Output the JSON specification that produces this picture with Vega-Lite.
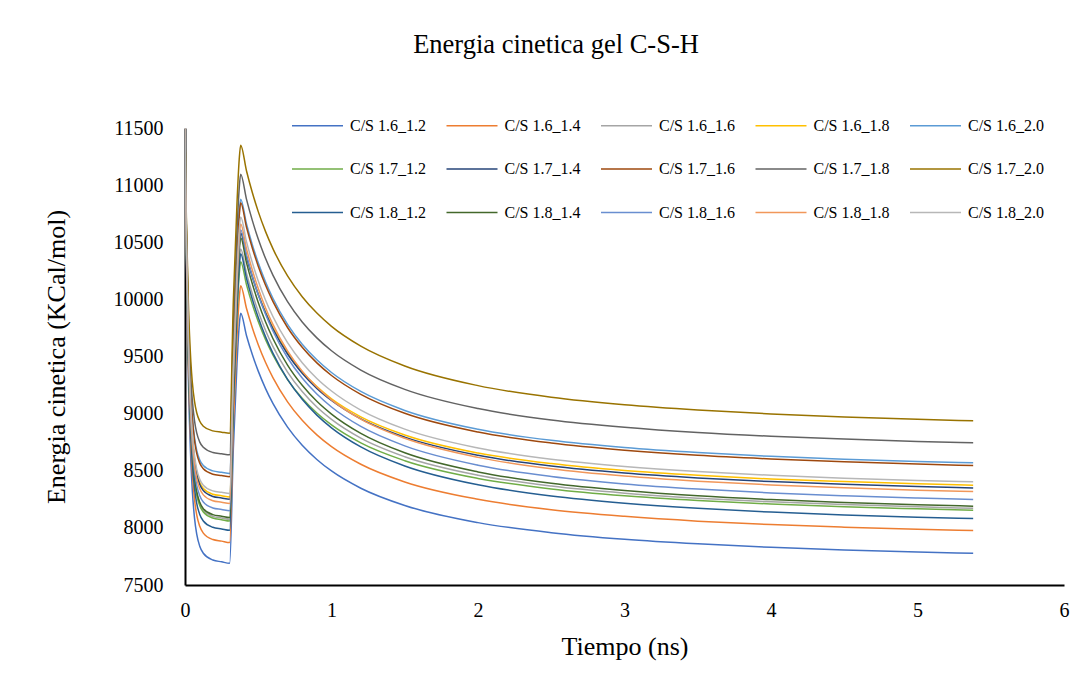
{
"$schema":"https://vega.github.io/schema/vega-lite/v6.json",
"width":879,"height":457,
"autosize":{"type":"none"},
"padding":{"left":185,"top":128,"right":27,"bottom":96},
"background":"white",
"config":{"view":{"stroke":null},"font":"Liberation Serif"},
"title":{"text":"Energia cinetica gel C-S-H","font":"Liberation Serif","fontSize":26.5,"fontWeight":"normal","color":"#000","frame":"bounds","offset":41},
"data":{"values":[
{"s":"1.6_1.2","t":0,"e":11500},{"s":"1.6_1.2","t":0.005,"e":10845},{"s":"1.6_1.2","t":0.01,"e":10307},{"s":"1.6_1.2","t":0.023,"e":9317},{"s":"1.6_1.2","t":0.04,"e":8582},{"s":"1.6_1.2","t":0.05,"e":8326},{"s":"1.6_1.2","t":0.065,"e":8086},{"s":"1.6_1.2","t":0.08,"e":7945},{"s":"1.6_1.2","t":0.1,"e":7842},{"s":"1.6_1.2","t":0.125,"e":7778},{"s":"1.6_1.2","t":0.19,"e":7719},{"s":"1.6_1.2","t":0.25,"e":7703},{"s":"1.6_1.2","t":0.305,"e":7690},{"s":"1.6_1.2","t":0.33,"e":8696},{"s":"1.6_1.2","t":0.355,"e":9440},{"s":"1.6_1.2","t":0.37,"e":9769},{"s":"1.6_1.2","t":0.38,"e":9878},{"s":"1.6_1.2","t":0.42,"e":9682},{"s":"1.6_1.2","t":0.46,"e":9515},{"s":"1.6_1.2","t":0.5,"e":9372},{"s":"1.6_1.2","t":0.55,"e":9219},{"s":"1.6_1.2","t":0.6,"e":9089},{"s":"1.6_1.2","t":0.7,"e":8882},{"s":"1.6_1.2","t":0.8,"e":8723},{"s":"1.6_1.2","t":0.9,"e":8599},{"s":"1.6_1.2","t":1,"e":8498},{"s":"1.6_1.2","t":1.2,"e":8347},{"s":"1.6_1.2","t":1.5,"e":8196},{"s":"1.6_1.2","t":2,"e":8046},{"s":"1.6_1.2","t":2.5,"e":7958},{"s":"1.6_1.2","t":3,"e":7900},{"s":"1.6_1.2","t":3.5,"e":7860},{"s":"1.6_1.2","t":4,"e":7830},{"s":"1.6_1.2","t":4.5,"e":7807},{"s":"1.6_1.2","t":5,"e":7789},{"s":"1.6_1.2","t":5.38,"e":7778},
{"s":"1.6_1.4","t":0,"e":11500},{"s":"1.6_1.4","t":0.005,"e":10876},{"s":"1.6_1.4","t":0.01,"e":10364},{"s":"1.6_1.4","t":0.023,"e":9421},{"s":"1.6_1.4","t":0.04,"e":8720},{"s":"1.6_1.4","t":0.05,"e":8477},{"s":"1.6_1.4","t":0.065,"e":8248},{"s":"1.6_1.4","t":0.08,"e":8114},{"s":"1.6_1.4","t":0.1,"e":8016},{"s":"1.6_1.4","t":0.125,"e":7954},{"s":"1.6_1.4","t":0.19,"e":7898},{"s":"1.6_1.4","t":0.25,"e":7884},{"s":"1.6_1.4","t":0.305,"e":7871},{"s":"1.6_1.4","t":0.33,"e":8906},{"s":"1.6_1.4","t":0.355,"e":9670},{"s":"1.6_1.4","t":0.37,"e":10008},{"s":"1.6_1.4","t":0.38,"e":10120},{"s":"1.6_1.4","t":0.42,"e":9920},{"s":"1.6_1.4","t":0.46,"e":9750},{"s":"1.6_1.4","t":0.5,"e":9603},{"s":"1.6_1.4","t":0.55,"e":9447},{"s":"1.6_1.4","t":0.6,"e":9315},{"s":"1.6_1.4","t":0.7,"e":9103},{"s":"1.6_1.4","t":0.8,"e":8941},{"s":"1.6_1.4","t":0.9,"e":8814},{"s":"1.6_1.4","t":1,"e":8711},{"s":"1.6_1.4","t":1.2,"e":8557},{"s":"1.6_1.4","t":1.5,"e":8402},{"s":"1.6_1.4","t":2,"e":8250},{"s":"1.6_1.4","t":2.5,"e":8159},{"s":"1.6_1.4","t":3,"e":8101},{"s":"1.6_1.4","t":3.5,"e":8059},{"s":"1.6_1.4","t":4,"e":8029},{"s":"1.6_1.4","t":4.5,"e":8006},{"s":"1.6_1.4","t":5,"e":7987},{"s":"1.6_1.4","t":5.38,"e":7976},
{"s":"1.6_1.6","t":0,"e":11500},{"s":"1.6_1.6","t":0.005,"e":10911},{"s":"1.6_1.6","t":0.01,"e":10428},{"s":"1.6_1.6","t":0.023,"e":9537},{"s":"1.6_1.6","t":0.04,"e":8876},{"s":"1.6_1.6","t":0.05,"e":8647},{"s":"1.6_1.6","t":0.065,"e":8431},{"s":"1.6_1.6","t":0.08,"e":8304},{"s":"1.6_1.6","t":0.1,"e":8212},{"s":"1.6_1.6","t":0.125,"e":8154},{"s":"1.6_1.6","t":0.19,"e":8101},{"s":"1.6_1.6","t":0.25,"e":8087},{"s":"1.6_1.6","t":0.305,"e":8075},{"s":"1.6_1.6","t":0.33,"e":9163},{"s":"1.6_1.6","t":0.355,"e":9967},{"s":"1.6_1.6","t":0.37,"e":10322},{"s":"1.6_1.6","t":0.38,"e":10440},{"s":"1.6_1.6","t":0.42,"e":10228},{"s":"1.6_1.6","t":0.46,"e":10048},{"s":"1.6_1.6","t":0.5,"e":9893},{"s":"1.6_1.6","t":0.55,"e":9728},{"s":"1.6_1.6","t":0.6,"e":9588},{"s":"1.6_1.6","t":0.7,"e":9364},{"s":"1.6_1.6","t":0.8,"e":9193},{"s":"1.6_1.6","t":0.9,"e":9058},{"s":"1.6_1.6","t":1,"e":8950},{"s":"1.6_1.6","t":1.2,"e":8786},{"s":"1.6_1.6","t":1.5,"e":8623},{"s":"1.6_1.6","t":2,"e":8461},{"s":"1.6_1.6","t":2.5,"e":8366},{"s":"1.6_1.6","t":3,"e":8304},{"s":"1.6_1.6","t":3.5,"e":8260},{"s":"1.6_1.6","t":4,"e":8228},{"s":"1.6_1.6","t":4.5,"e":8204},{"s":"1.6_1.6","t":5,"e":8184},{"s":"1.6_1.6","t":5.38,"e":8172},
{"s":"1.6_1.8","t":0,"e":11500},{"s":"1.6_1.8","t":0.005,"e":10945},{"s":"1.6_1.8","t":0.01,"e":10489},{"s":"1.6_1.8","t":0.023,"e":9650},{"s":"1.6_1.8","t":0.04,"e":9027},{"s":"1.6_1.8","t":0.05,"e":8810},{"s":"1.6_1.8","t":0.065,"e":8607},{"s":"1.6_1.8","t":0.08,"e":8487},{"s":"1.6_1.8","t":0.1,"e":8400},{"s":"1.6_1.8","t":0.125,"e":8345},{"s":"1.6_1.8","t":0.19,"e":8295},{"s":"1.6_1.8","t":0.25,"e":8282},{"s":"1.6_1.8","t":0.305,"e":8271},{"s":"1.6_1.8","t":0.33,"e":9333},{"s":"1.6_1.8","t":0.355,"e":10118},{"s":"1.6_1.8","t":0.37,"e":10465},{"s":"1.6_1.8","t":0.38,"e":10580},{"s":"1.6_1.8","t":0.42,"e":10374},{"s":"1.6_1.8","t":0.46,"e":10199},{"s":"1.6_1.8","t":0.5,"e":10048},{"s":"1.6_1.8","t":0.55,"e":9888},{"s":"1.6_1.8","t":0.6,"e":9752},{"s":"1.6_1.8","t":0.7,"e":9533},{"s":"1.6_1.8","t":0.8,"e":9367},{"s":"1.6_1.8","t":0.9,"e":9236},{"s":"1.6_1.8","t":1,"e":9130},{"s":"1.6_1.8","t":1.2,"e":8972},{"s":"1.6_1.8","t":1.5,"e":8813},{"s":"1.6_1.8","t":2,"e":8655},{"s":"1.6_1.8","t":2.5,"e":8563},{"s":"1.6_1.8","t":3,"e":8502},{"s":"1.6_1.8","t":3.5,"e":8460},{"s":"1.6_1.8","t":4,"e":8428},{"s":"1.6_1.8","t":4.5,"e":8405},{"s":"1.6_1.8","t":5,"e":8386},{"s":"1.6_1.8","t":5.38,"e":8374},
{"s":"1.6_2.0","t":0,"e":11500},{"s":"1.6_2.0","t":0.005,"e":10980},{"s":"1.6_2.0","t":0.01,"e":10553},{"s":"1.6_2.0","t":0.023,"e":9767},{"s":"1.6_2.0","t":0.04,"e":9184},{"s":"1.6_2.0","t":0.05,"e":8981},{"s":"1.6_2.0","t":0.065,"e":8790},{"s":"1.6_2.0","t":0.08,"e":8679},{"s":"1.6_2.0","t":0.1,"e":8597},{"s":"1.6_2.0","t":0.125,"e":8546},{"s":"1.6_2.0","t":0.19,"e":8499},{"s":"1.6_2.0","t":0.25,"e":8487},{"s":"1.6_2.0","t":0.305,"e":8476},{"s":"1.6_2.0","t":0.33,"e":9580},{"s":"1.6_2.0","t":0.355,"e":10396},{"s":"1.6_2.0","t":0.37,"e":10756},{"s":"1.6_2.0","t":0.38,"e":10876},{"s":"1.6_2.0","t":0.42,"e":10660},{"s":"1.6_2.0","t":0.46,"e":10477},{"s":"1.6_2.0","t":0.5,"e":10320},{"s":"1.6_2.0","t":0.55,"e":10152},{"s":"1.6_2.0","t":0.6,"e":10010},{"s":"1.6_2.0","t":0.7,"e":9782},{"s":"1.6_2.0","t":0.8,"e":9608},{"s":"1.6_2.0","t":0.9,"e":9471},{"s":"1.6_2.0","t":1,"e":9360},{"s":"1.6_2.0","t":1.2,"e":9194},{"s":"1.6_2.0","t":1.5,"e":9028},{"s":"1.6_2.0","t":2,"e":8863},{"s":"1.6_2.0","t":2.5,"e":8766},{"s":"1.6_2.0","t":3,"e":8703},{"s":"1.6_2.0","t":3.5,"e":8659},{"s":"1.6_2.0","t":4,"e":8626},{"s":"1.6_2.0","t":4.5,"e":8601},{"s":"1.6_2.0","t":5,"e":8581},{"s":"1.6_2.0","t":5.38,"e":8569},
{"s":"1.7_1.2","t":0,"e":11500},{"s":"1.7_1.2","t":0.005,"e":10908},{"s":"1.7_1.2","t":0.01,"e":10423},{"s":"1.7_1.2","t":0.023,"e":9529},{"s":"1.7_1.2","t":0.04,"e":8865},{"s":"1.7_1.2","t":0.05,"e":8634},{"s":"1.7_1.2","t":0.065,"e":8418},{"s":"1.7_1.2","t":0.08,"e":8290},{"s":"1.7_1.2","t":0.1,"e":8198},{"s":"1.7_1.2","t":0.125,"e":8139},{"s":"1.7_1.2","t":0.19,"e":8086},{"s":"1.7_1.2","t":0.25,"e":8072},{"s":"1.7_1.2","t":0.305,"e":8060},{"s":"1.7_1.2","t":0.33,"e":9104},{"s":"1.7_1.2","t":0.355,"e":9876},{"s":"1.7_1.2","t":0.37,"e":10217},{"s":"1.7_1.2","t":0.38,"e":10330},{"s":"1.7_1.2","t":0.42,"e":10127},{"s":"1.7_1.2","t":0.46,"e":9954},{"s":"1.7_1.2","t":0.5,"e":9806},{"s":"1.7_1.2","t":0.55,"e":9647},{"s":"1.7_1.2","t":0.6,"e":9513},{"s":"1.7_1.2","t":0.7,"e":9298},{"s":"1.7_1.2","t":0.8,"e":9134},{"s":"1.7_1.2","t":0.9,"e":9005},{"s":"1.7_1.2","t":1,"e":8901},{"s":"1.7_1.2","t":1.2,"e":8744},{"s":"1.7_1.2","t":1.5,"e":8588},{"s":"1.7_1.2","t":2,"e":8433},{"s":"1.7_1.2","t":2.5,"e":8341},{"s":"1.7_1.2","t":3,"e":8281},{"s":"1.7_1.2","t":3.5,"e":8240},{"s":"1.7_1.2","t":4,"e":8209},{"s":"1.7_1.2","t":4.5,"e":8185},{"s":"1.7_1.2","t":5,"e":8167},{"s":"1.7_1.2","t":5.38,"e":8155},
{"s":"1.7_1.4","t":0,"e":11500},{"s":"1.7_1.4","t":0.005,"e":10941},{"s":"1.7_1.4","t":0.01,"e":10483},{"s":"1.7_1.4","t":0.023,"e":9638},{"s":"1.7_1.4","t":0.04,"e":9011},{"s":"1.7_1.4","t":0.05,"e":8794},{"s":"1.7_1.4","t":0.065,"e":8589},{"s":"1.7_1.4","t":0.08,"e":8469},{"s":"1.7_1.4","t":0.1,"e":8381},{"s":"1.7_1.4","t":0.125,"e":8326},{"s":"1.7_1.4","t":0.19,"e":8275},{"s":"1.7_1.4","t":0.25,"e":8262},{"s":"1.7_1.4","t":0.305,"e":8251},{"s":"1.7_1.4","t":0.33,"e":9322},{"s":"1.7_1.4","t":0.355,"e":10114},{"s":"1.7_1.4","t":0.37,"e":10464},{"s":"1.7_1.4","t":0.38,"e":10580},{"s":"1.7_1.4","t":0.42,"e":10371},{"s":"1.7_1.4","t":0.46,"e":10195},{"s":"1.7_1.4","t":0.5,"e":10042},{"s":"1.7_1.4","t":0.55,"e":9880},{"s":"1.7_1.4","t":0.6,"e":9743},{"s":"1.7_1.4","t":0.7,"e":9522},{"s":"1.7_1.4","t":0.8,"e":9354},{"s":"1.7_1.4","t":0.9,"e":9221},{"s":"1.7_1.4","t":1,"e":9115},{"s":"1.7_1.4","t":1.2,"e":8954},{"s":"1.7_1.4","t":1.5,"e":8794},{"s":"1.7_1.4","t":2,"e":8635},{"s":"1.7_1.4","t":2.5,"e":8541},{"s":"1.7_1.4","t":3,"e":8480},{"s":"1.7_1.4","t":3.5,"e":8437},{"s":"1.7_1.4","t":4,"e":8405},{"s":"1.7_1.4","t":4.5,"e":8381},{"s":"1.7_1.4","t":5,"e":8362},{"s":"1.7_1.4","t":5.38,"e":8350},
{"s":"1.7_1.6","t":0,"e":11500},{"s":"1.7_1.6","t":0.005,"e":10975},{"s":"1.7_1.6","t":0.01,"e":10544},{"s":"1.7_1.6","t":0.023,"e":9751},{"s":"1.7_1.6","t":0.04,"e":9161},{"s":"1.7_1.6","t":0.05,"e":8957},{"s":"1.7_1.6","t":0.065,"e":8765},{"s":"1.7_1.6","t":0.08,"e":8652},{"s":"1.7_1.6","t":0.1,"e":8569},{"s":"1.7_1.6","t":0.125,"e":8517},{"s":"1.7_1.6","t":0.19,"e":8470},{"s":"1.7_1.6","t":0.25,"e":8458},{"s":"1.7_1.6","t":0.305,"e":8447},{"s":"1.7_1.6","t":0.33,"e":9550},{"s":"1.7_1.6","t":0.355,"e":10365},{"s":"1.7_1.6","t":0.37,"e":10725},{"s":"1.7_1.6","t":0.38,"e":10845},{"s":"1.7_1.6","t":0.42,"e":10630},{"s":"1.7_1.6","t":0.46,"e":10448},{"s":"1.7_1.6","t":0.5,"e":10291},{"s":"1.7_1.6","t":0.55,"e":10123},{"s":"1.7_1.6","t":0.6,"e":9982},{"s":"1.7_1.6","t":0.7,"e":9754},{"s":"1.7_1.6","t":0.8,"e":9581},{"s":"1.7_1.6","t":0.9,"e":9444},{"s":"1.7_1.6","t":1,"e":9334},{"s":"1.7_1.6","t":1.2,"e":9169},{"s":"1.7_1.6","t":1.5,"e":9003},{"s":"1.7_1.6","t":2,"e":8839},{"s":"1.7_1.6","t":2.5,"e":8743},{"s":"1.7_1.6","t":3,"e":8680},{"s":"1.7_1.6","t":3.5,"e":8635},{"s":"1.7_1.6","t":4,"e":8603},{"s":"1.7_1.6","t":4.5,"e":8578},{"s":"1.7_1.6","t":5,"e":8558},{"s":"1.7_1.6","t":5.38,"e":8546},
{"s":"1.7_1.8","t":0,"e":11500},{"s":"1.7_1.8","t":0.005,"e":11008},{"s":"1.7_1.8","t":0.01,"e":10605},{"s":"1.7_1.8","t":0.023,"e":9861},{"s":"1.7_1.8","t":0.04,"e":9308},{"s":"1.7_1.8","t":0.05,"e":9117},{"s":"1.7_1.8","t":0.065,"e":8937},{"s":"1.7_1.8","t":0.08,"e":8831},{"s":"1.7_1.8","t":0.1,"e":8753},{"s":"1.7_1.8","t":0.125,"e":8705},{"s":"1.7_1.8","t":0.19,"e":8660},{"s":"1.7_1.8","t":0.25,"e":8649},{"s":"1.7_1.8","t":0.305,"e":8639},{"s":"1.7_1.8","t":0.33,"e":9769},{"s":"1.7_1.8","t":0.355,"e":10604},{"s":"1.7_1.8","t":0.37,"e":10972},{"s":"1.7_1.8","t":0.38,"e":11095},{"s":"1.7_1.8","t":0.42,"e":10875},{"s":"1.7_1.8","t":0.46,"e":10689},{"s":"1.7_1.8","t":0.5,"e":10528},{"s":"1.7_1.8","t":0.55,"e":10357},{"s":"1.7_1.8","t":0.6,"e":10212},{"s":"1.7_1.8","t":0.7,"e":9980},{"s":"1.7_1.8","t":0.8,"e":9802},{"s":"1.7_1.8","t":0.9,"e":9663},{"s":"1.7_1.8","t":1,"e":9550},{"s":"1.7_1.8","t":1.2,"e":9381},{"s":"1.7_1.8","t":1.5,"e":9212},{"s":"1.7_1.8","t":2,"e":9044},{"s":"1.7_1.8","t":2.5,"e":8945},{"s":"1.7_1.8","t":3,"e":8881},{"s":"1.7_1.8","t":3.5,"e":8835},{"s":"1.7_1.8","t":4,"e":8802},{"s":"1.7_1.8","t":4.5,"e":8777},{"s":"1.7_1.8","t":5,"e":8756},{"s":"1.7_1.8","t":5.38,"e":8744},
{"s":"1.7_2.0","t":0,"e":11500},{"s":"1.7_2.0","t":0.005,"e":11041},{"s":"1.7_2.0","t":0.01,"e":10664},{"s":"1.7_2.0","t":0.023,"e":9970},{"s":"1.7_2.0","t":0.04,"e":9454},{"s":"1.7_2.0","t":0.05,"e":9275},{"s":"1.7_2.0","t":0.065,"e":9107},{"s":"1.7_2.0","t":0.08,"e":9008},{"s":"1.7_2.0","t":0.1,"e":8936},{"s":"1.7_2.0","t":0.125,"e":8890},{"s":"1.7_2.0","t":0.19,"e":8849},{"s":"1.7_2.0","t":0.25,"e":8838},{"s":"1.7_2.0","t":0.305,"e":8829},{"s":"1.7_2.0","t":0.33,"e":9989},{"s":"1.7_2.0","t":0.355,"e":10846},{"s":"1.7_2.0","t":0.37,"e":11224},{"s":"1.7_2.0","t":0.38,"e":11350},{"s":"1.7_2.0","t":0.42,"e":11124},{"s":"1.7_2.0","t":0.46,"e":10933},{"s":"1.7_2.0","t":0.5,"e":10768},{"s":"1.7_2.0","t":0.55,"e":10593},{"s":"1.7_2.0","t":0.6,"e":10444},{"s":"1.7_2.0","t":0.7,"e":10205},{"s":"1.7_2.0","t":0.8,"e":10023},{"s":"1.7_2.0","t":0.9,"e":9880},{"s":"1.7_2.0","t":1,"e":9764},{"s":"1.7_2.0","t":1.2,"e":9591},{"s":"1.7_2.0","t":1.5,"e":9417},{"s":"1.7_2.0","t":2,"e":9245},{"s":"1.7_2.0","t":2.5,"e":9143},{"s":"1.7_2.0","t":3,"e":9077},{"s":"1.7_2.0","t":3.5,"e":9031},{"s":"1.7_2.0","t":4,"e":8997},{"s":"1.7_2.0","t":4.5,"e":8971},{"s":"1.7_2.0","t":5,"e":8950},{"s":"1.7_2.0","t":5.38,"e":8937},
{"s":"1.8_1.2","t":0,"e":11500},{"s":"1.8_1.2","t":0.005,"e":10894},{"s":"1.8_1.2","t":0.01,"e":10398},{"s":"1.8_1.2","t":0.023,"e":9482},{"s":"1.8_1.2","t":0.04,"e":8803},{"s":"1.8_1.2","t":0.05,"e":8567},{"s":"1.8_1.2","t":0.065,"e":8345},{"s":"1.8_1.2","t":0.08,"e":8215},{"s":"1.8_1.2","t":0.1,"e":8120},{"s":"1.8_1.2","t":0.125,"e":8060},{"s":"1.8_1.2","t":0.19,"e":8005},{"s":"1.8_1.2","t":0.25,"e":7991},{"s":"1.8_1.2","t":0.305,"e":7979},{"s":"1.8_1.2","t":0.33,"e":9093},{"s":"1.8_1.2","t":0.355,"e":9916},{"s":"1.8_1.2","t":0.37,"e":10279},{"s":"1.8_1.2","t":0.38,"e":10400},{"s":"1.8_1.2","t":0.42,"e":10183},{"s":"1.8_1.2","t":0.46,"e":9999},{"s":"1.8_1.2","t":0.5,"e":9841},{"s":"1.8_1.2","t":0.55,"e":9672},{"s":"1.8_1.2","t":0.6,"e":9529},{"s":"1.8_1.2","t":0.7,"e":9300},{"s":"1.8_1.2","t":0.8,"e":9125},{"s":"1.8_1.2","t":0.9,"e":8987},{"s":"1.8_1.2","t":1,"e":8876},{"s":"1.8_1.2","t":1.2,"e":8709},{"s":"1.8_1.2","t":1.5,"e":8542},{"s":"1.8_1.2","t":2,"e":8377},{"s":"1.8_1.2","t":2.5,"e":8279},{"s":"1.8_1.2","t":3,"e":8216},{"s":"1.8_1.2","t":3.5,"e":8171},{"s":"1.8_1.2","t":4,"e":8138},{"s":"1.8_1.2","t":4.5,"e":8113},{"s":"1.8_1.2","t":5,"e":8093},{"s":"1.8_1.2","t":5.38,"e":8081},
{"s":"1.8_1.4","t":0,"e":11500},{"s":"1.8_1.4","t":0.005,"e":10913},{"s":"1.8_1.4","t":0.01,"e":10433},{"s":"1.8_1.4","t":0.023,"e":9546},{"s":"1.8_1.4","t":0.04,"e":8888},{"s":"1.8_1.4","t":0.05,"e":8659},{"s":"1.8_1.4","t":0.065,"e":8445},{"s":"1.8_1.4","t":0.08,"e":8318},{"s":"1.8_1.4","t":0.1,"e":8226},{"s":"1.8_1.4","t":0.125,"e":8168},{"s":"1.8_1.4","t":0.19,"e":8116},{"s":"1.8_1.4","t":0.25,"e":8102},{"s":"1.8_1.4","t":0.305,"e":8090},{"s":"1.8_1.4","t":0.33,"e":9217},{"s":"1.8_1.4","t":0.355,"e":10050},{"s":"1.8_1.4","t":0.37,"e":10418},{"s":"1.8_1.4","t":0.38,"e":10540},{"s":"1.8_1.4","t":0.42,"e":10320},{"s":"1.8_1.4","t":0.46,"e":10134},{"s":"1.8_1.4","t":0.5,"e":9973},{"s":"1.8_1.4","t":0.55,"e":9802},{"s":"1.8_1.4","t":0.6,"e":9658},{"s":"1.8_1.4","t":0.7,"e":9425},{"s":"1.8_1.4","t":0.8,"e":9248},{"s":"1.8_1.4","t":0.9,"e":9108},{"s":"1.8_1.4","t":1,"e":8996},{"s":"1.8_1.4","t":1.2,"e":8827},{"s":"1.8_1.4","t":1.5,"e":8657},{"s":"1.8_1.4","t":2,"e":8490},{"s":"1.8_1.4","t":2.5,"e":8391},{"s":"1.8_1.4","t":3,"e":8327},{"s":"1.8_1.4","t":3.5,"e":8281},{"s":"1.8_1.4","t":4,"e":8248},{"s":"1.8_1.4","t":4.5,"e":8223},{"s":"1.8_1.4","t":5,"e":8202},{"s":"1.8_1.4","t":5.38,"e":8190},
{"s":"1.8_1.6","t":0,"e":11500},{"s":"1.8_1.6","t":0.005,"e":10924},{"s":"1.8_1.6","t":0.01,"e":10451},{"s":"1.8_1.6","t":0.023,"e":9580},{"s":"1.8_1.6","t":0.04,"e":8933},{"s":"1.8_1.6","t":0.05,"e":8709},{"s":"1.8_1.6","t":0.065,"e":8498},{"s":"1.8_1.6","t":0.08,"e":8374},{"s":"1.8_1.6","t":0.1,"e":8283},{"s":"1.8_1.6","t":0.125,"e":8226},{"s":"1.8_1.6","t":0.19,"e":8174},{"s":"1.8_1.6","t":0.25,"e":8161},{"s":"1.8_1.6","t":0.305,"e":8149},{"s":"1.8_1.6","t":0.33,"e":9281},{"s":"1.8_1.6","t":0.355,"e":10118},{"s":"1.8_1.6","t":0.37,"e":10487},{"s":"1.8_1.6","t":0.38,"e":10610},{"s":"1.8_1.6","t":0.42,"e":10389},{"s":"1.8_1.6","t":0.46,"e":10202},{"s":"1.8_1.6","t":0.5,"e":10041},{"s":"1.8_1.6","t":0.55,"e":9869},{"s":"1.8_1.6","t":0.6,"e":9723},{"s":"1.8_1.6","t":0.7,"e":9489},{"s":"1.8_1.6","t":0.8,"e":9311},{"s":"1.8_1.6","t":0.9,"e":9171},{"s":"1.8_1.6","t":1,"e":9058},{"s":"1.8_1.6","t":1.2,"e":8888},{"s":"1.8_1.6","t":1.5,"e":8718},{"s":"1.8_1.6","t":2,"e":8549},{"s":"1.8_1.6","t":2.5,"e":8450},{"s":"1.8_1.6","t":3,"e":8385},{"s":"1.8_1.6","t":3.5,"e":8340},{"s":"1.8_1.6","t":4,"e":8306},{"s":"1.8_1.6","t":4.5,"e":8281},{"s":"1.8_1.6","t":5,"e":8261},{"s":"1.8_1.6","t":5.38,"e":8248},
{"s":"1.8_1.8","t":0,"e":11500},{"s":"1.8_1.8","t":0.005,"e":10935},{"s":"1.8_1.8","t":0.01,"e":10471},{"s":"1.8_1.8","t":0.023,"e":9617},{"s":"1.8_1.8","t":0.04,"e":8982},{"s":"1.8_1.8","t":0.05,"e":8762},{"s":"1.8_1.8","t":0.065,"e":8555},{"s":"1.8_1.8","t":0.08,"e":8433},{"s":"1.8_1.8","t":0.1,"e":8344},{"s":"1.8_1.8","t":0.125,"e":8289},{"s":"1.8_1.8","t":0.19,"e":8238},{"s":"1.8_1.8","t":0.25,"e":8225},{"s":"1.8_1.8","t":0.305,"e":8213},{"s":"1.8_1.8","t":0.33,"e":9339},{"s":"1.8_1.8","t":0.355,"e":10171},{"s":"1.8_1.8","t":0.37,"e":10538},{"s":"1.8_1.8","t":0.38,"e":10660},{"s":"1.8_1.8","t":0.42,"e":10441},{"s":"1.8_1.8","t":0.46,"e":10255},{"s":"1.8_1.8","t":0.5,"e":10095},{"s":"1.8_1.8","t":0.55,"e":9925},{"s":"1.8_1.8","t":0.6,"e":9781},{"s":"1.8_1.8","t":0.7,"e":9549},{"s":"1.8_1.8","t":0.8,"e":9372},{"s":"1.8_1.8","t":0.9,"e":9233},{"s":"1.8_1.8","t":1,"e":9121},{"s":"1.8_1.8","t":1.2,"e":8952},{"s":"1.8_1.8","t":1.5,"e":8784},{"s":"1.8_1.8","t":2,"e":8617},{"s":"1.8_1.8","t":2.5,"e":8518},{"s":"1.8_1.8","t":3,"e":8454},{"s":"1.8_1.8","t":3.5,"e":8409},{"s":"1.8_1.8","t":4,"e":8376},{"s":"1.8_1.8","t":4.5,"e":8351},{"s":"1.8_1.8","t":5,"e":8330},{"s":"1.8_1.8","t":5.38,"e":8318},
{"s":"1.8_2.0","t":0,"e":11500},{"s":"1.8_2.0","t":0.005,"e":10950},{"s":"1.8_2.0","t":0.01,"e":10498},{"s":"1.8_2.0","t":0.023,"e":9666},{"s":"1.8_2.0","t":0.04,"e":9049},{"s":"1.8_2.0","t":0.05,"e":8834},{"s":"1.8_2.0","t":0.065,"e":8633},{"s":"1.8_2.0","t":0.08,"e":8514},{"s":"1.8_2.0","t":0.1,"e":8428},{"s":"1.8_2.0","t":0.125,"e":8374},{"s":"1.8_2.0","t":0.19,"e":8324},{"s":"1.8_2.0","t":0.25,"e":8311},{"s":"1.8_2.0","t":0.305,"e":8300},{"s":"1.8_2.0","t":0.33,"e":9413},{"s":"1.8_2.0","t":0.355,"e":10236},{"s":"1.8_2.0","t":0.37,"e":10599},{"s":"1.8_2.0","t":0.38,"e":10720},{"s":"1.8_2.0","t":0.42,"e":10503},{"s":"1.8_2.0","t":0.46,"e":10320},{"s":"1.8_2.0","t":0.5,"e":10161},{"s":"1.8_2.0","t":0.55,"e":9993},{"s":"1.8_2.0","t":0.6,"e":9850},{"s":"1.8_2.0","t":0.7,"e":9621},{"s":"1.8_2.0","t":0.8,"e":9446},{"s":"1.8_2.0","t":0.9,"e":9308},{"s":"1.8_2.0","t":1,"e":9198},{"s":"1.8_2.0","t":1.2,"e":9031},{"s":"1.8_2.0","t":1.5,"e":8864},{"s":"1.8_2.0","t":2,"e":8699},{"s":"1.8_2.0","t":2.5,"e":8601},{"s":"1.8_2.0","t":3,"e":8538},{"s":"1.8_2.0","t":3.5,"e":8493},{"s":"1.8_2.0","t":4,"e":8460},{"s":"1.8_2.0","t":4.5,"e":8435},{"s":"1.8_2.0","t":5,"e":8415},{"s":"1.8_2.0","t":5.38,"e":8403}
]},
"mark":{"type":"line","strokeWidth":1.5,"interpolate":"monotone","clip":true},
"encoding":{
"x":{"field":"t","type":"quantitative","scale":{"domain":[0,6],"nice":false},
 "axis":{"title":"Tiempo (ns)","values":[0,1,2,3,4,5,6],"grid":false,"ticks":false,"labelFlush":false,"domainColor":"#000","domainWidth":2,"labelFont":"Liberation Serif","labelFontSize":20,"labelColor":"#000","labelPadding":15,"titleFont":"Liberation Serif","titleFontSize":26,"titleFontWeight":"normal","titleColor":"#000","titlePadding":13}},
"y":{"field":"e","type":"quantitative","scale":{"domain":[7500,11500],"nice":false,"zero":false},
 "axis":{"title":"Energia cinetica (KCal/mol)","values":[7500,8000,8500,9000,9500,10000,10500,11000,11500],"format":"d","grid":false,"ticks":false,"labelFlush":false,"domainColor":"#000","domainWidth":2,"labelFont":"Liberation Serif","labelFontSize":20,"labelColor":"#000","labelPadding":22,"titleFont":"Liberation Serif","titleFontSize":26,"titleFontWeight":"normal","titleColor":"#000","titlePadding":44}},
"color":{"field":"s","type":"nominal",
 "scale":{"domain":["1.6_1.2","1.6_1.4","1.6_1.6","1.6_1.8","1.6_2.0","1.7_1.2","1.7_1.4","1.7_1.6","1.7_1.8","1.7_2.0","1.8_1.2","1.8_1.4","1.8_1.6","1.8_1.8","1.8_2.0"],
 "range":["#4472C4","#ED7D31","#A5A5A5","#FFC000","#5B9BD5","#70AD47","#264478","#9E480E","#636363","#997300","#255E91","#43682B","#698ED0","#F1975A","#B7B7B7"]},
 "legend":{"title":null,"orient":"none","legendX":106,"legendY":-29,"direction":"horizontal","columns":5,"symbolType":"stroke","symbolSize":2601,"symbolStrokeWidth":1.5,"labelFont":"Liberation Serif","labelFontSize":16,"labelColor":"#000","labelLimit":0,"labelOffset":6,"columnPadding":16.5,"rowPadding":8.5,"labelExpr":"'C/S ' + datum.label"}}
}
}
